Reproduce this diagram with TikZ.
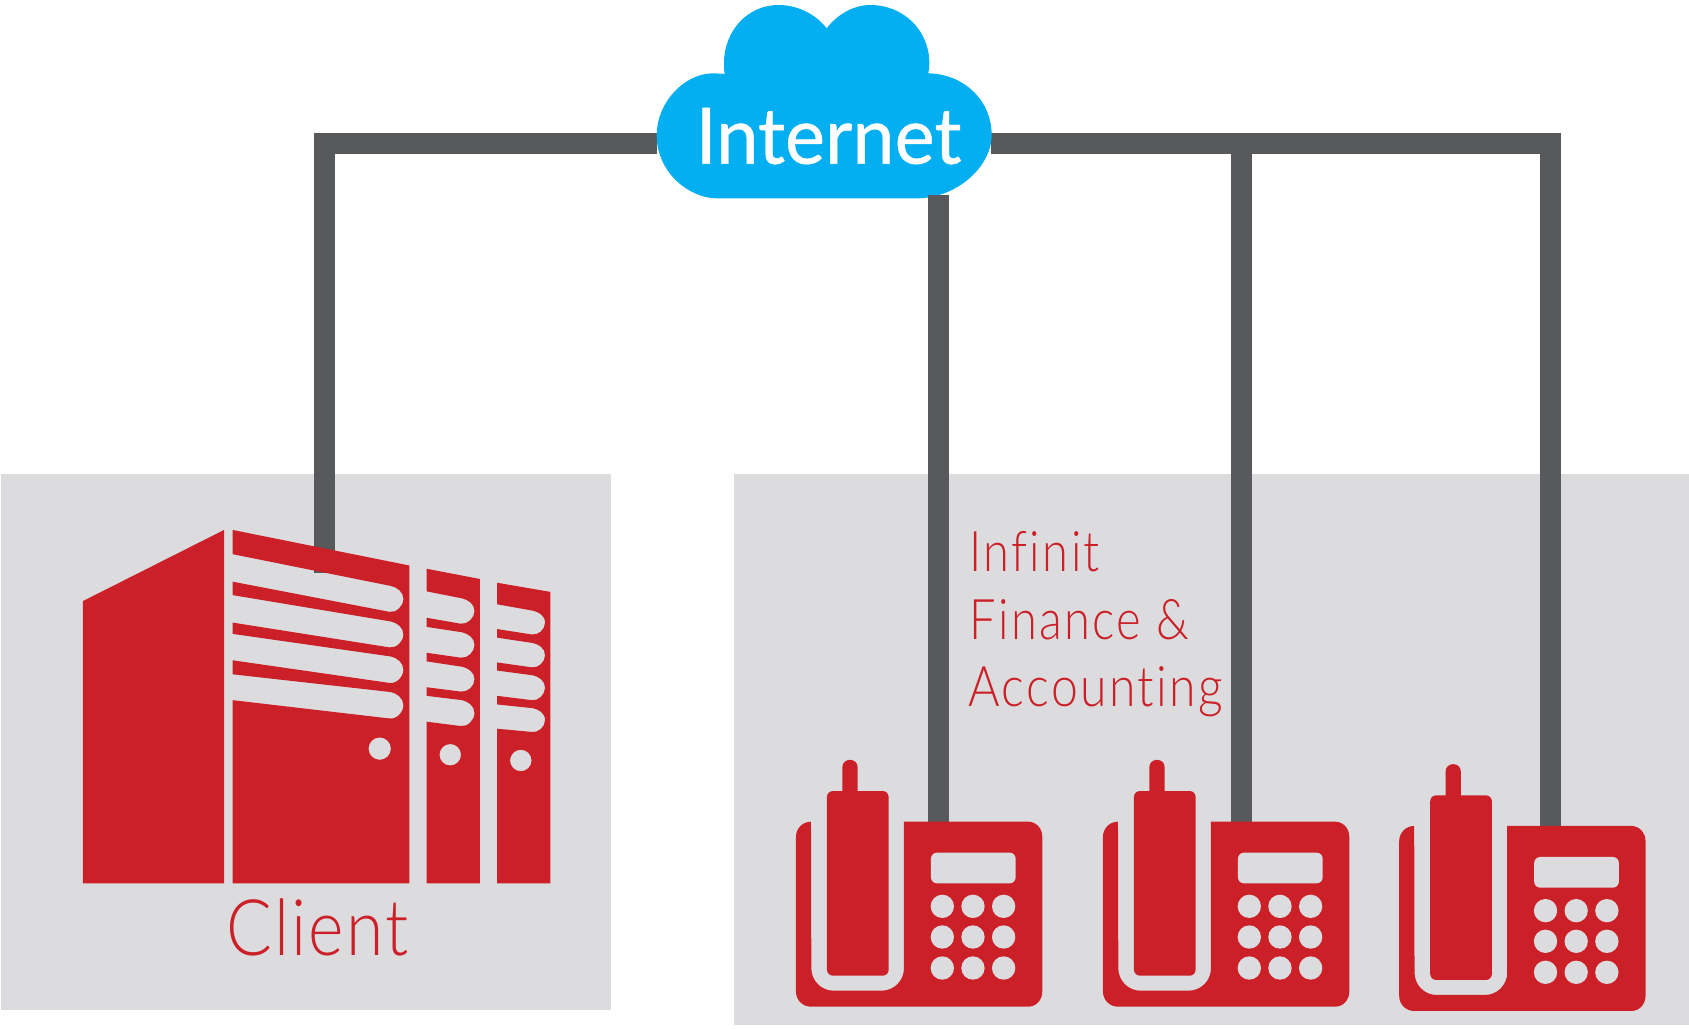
\documentclass[tikz,border=0pt]{standalone}
\usepackage{fontspec}
\usepackage{graphicx}
\setmainfont{Lato}
\newfontfamily\boldishf[FakeBold=0.6]{Lato}
\newfontfamily\lightf[LetterSpace=3,Ligatures=NoCommon]{Lato Light}
\newfontfamily\lightwide[LetterSpace=5,Ligatures=NoCommon]{Lato Light}
\definecolor{wire}{HTML}{58595B}
\definecolor{brick}{HTML}{CB2028}
\definecolor{sky}{HTML}{03AEF1}
\definecolor{panel}{HTML}{DCDCDE}
\tikzset{
  panelbox/.style={fill=panel,draw=none},
  wireline/.style={draw=wire,line width=10.6pt,line cap=butt,line join=miter},
  redfill/.style={fill=brick,draw=none},
  labeltext/.style={text=brick,anchor=base west,inner sep=0pt,outer sep=0pt},
  phoneicon/.pic={
    \fill[brick] (93,245) .. controls (68,245) and (48,265) .. (48,290) -- (48,755)
      .. controls (48,780) and (68,800) .. (93,800) -- (745,800)
      .. controls (768,800) and (787,780) .. (787,755) -- (787,290)
      .. controls (787,265) and (768,245) .. (745,245) -- (372,245) -- (372,685)
      .. controls (372,722) and (342,752) .. (305,752) -- (160,752)
      .. controls (124,752) and (94,722) .. (94,685) -- cycle;
    \fill[brick] (187,153) -- (187,82) .. controls (187,52) and (233,52) .. (233,82) -- (233,153)
      -- (308,153) .. controls (318,153) and (326,161) .. (326,171) -- (326,689)
      .. controls (326,699) and (318,707) .. (308,707) -- (159,707)
      .. controls (149,707) and (141,699) .. (141,689) -- (141,171)
      .. controls (141,161) and (149,153) .. (159,153) -- cycle;
    \fill[panel] (471,338) -- (689,338) .. controls (699,338) and (707,346) .. (707,356) -- (707,412)
      .. controls (707,422) and (699,430) .. (689,430) -- (471,430)
      .. controls (461,430) and (453,422) .. (453,412) -- (453,356)
      .. controls (453,346) and (461,338) .. (471,338) -- cycle;
    \foreach \kx in {487,579,671}
      \foreach \ky in {499,591,684}
        \fill[panel] (\kx,\ky) circle[radius=35];
  }
}
% a notch in the block outline, walked from the bottom up
\newcommand{\slotp}[7]{%
  -- ({#1},{#3}) -- ({#4-1.5},{#6})
  .. controls ({#7-6.5},{#6+1}) and ({#7},{(#5+#6)/2+6.6}) .. ({#7},{(#5+#6)/2})
  .. controls ({#7},{(#5+#6)/2-6.6}) and ({#7-6},{#5+1.2}) .. ({#4},{#5})
  -- ({#1},{#2}) }
\begin{document}
\begin{tikzpicture}[x=0.5386pt,y=-0.5386pt]
\useasboundingbox (0,0) rectangle (1568,954.4);
\fill[panelbox] (1,440) rectangle (567,938);
\fill[panelbox] (681,440) rectangle (1568,952);

\coordinate (cloudL) at (610,133.5);
\coordinate (cloudR) at (920,133.5);
\coordinate (cloudB) at (871,181);
\coordinate (clientTop) at (301,532);
\coordinate (cornerL) at (301,133.5);
\coordinate (cornerR) at (1449.5,133.5);
\coordinate (midJoin) at (1152.5,133.5);
\coordinate (rightTop) at (1439.5,124);
\coordinate (phoneA) at (871,764);
\coordinate (phoneB) at (1152.5,764);
\coordinate (phoneC) at (1439.5,768);

\draw[wireline] (cloudL) -- (cornerL) -- (clientTop);
\draw[wireline] (cloudR) -- (cornerR);
\draw[wireline] (midJoin) -- (phoneB);
\draw[wireline] (rightTop) -- (phoneC);

\begin{scope}[shift={(575.6,0)},scale=0.30945]
\fill[sky] (620,85) .. controls (585,40) and (530,15) .. (475,15)
  .. controls (385,15) and (312,90) .. (312,190)
  .. controls (312,200) and (312,212) .. (314,222)
  .. controls (300,221) and (290,220) .. (280,220)
  .. controls (190,220) and (110,310) .. (110,405)
  .. controls (110,520) and (210,595) .. (290,595) -- (890,595)
  .. controls (1010,595) and (1115,500) .. (1115,405)
  .. controls (1115,300) and (1030,222) .. (925,220)
  .. controls (927,210) and (928,200) .. (928,190)
  .. controls (928,90) and (850,15) .. (750,15)
  .. controls (700,15) and (650,45) .. (620,85) -- cycle;
\end{scope}
\draw[wireline] (cloudB) -- (phoneA);
\node[inner sep=0pt,anchor=base west,text=white] (inet) at (645.5,152)
  {\scalebox{0.97}[1]{\fontsize{39}{39}\boldishf Internet}};

\fill[redfill] (77,558) -- (208,492) -- (208,820) -- (77,820) -- cycle;
\fill[redfill,even odd rule]
  (216,492) -- (380,525) -- (380,820) -- (216,820)
  \slotp{216}{626}{650}{363}{642.5}{667}{374.5}
  \slotp{216}{588.5}{613}{363}{609.5}{634}{374.5}
  \slotp{216}{552.5}{578}{363}{577}{601}{374.5}
  \slotp{216}{514.5}{540}{363}{544}{568}{374.5}
  -- cycle
  (352.5,695) circle[radius=10.4];
\fill[redfill,even odd rule]
  (396,528) -- (445.5,537.5) -- (445.5,820) -- (396,820)
  \slotp{396}{646}{670}{429}{650}{674}{440.5}
  \slotp{396}{614}{638}{429}{619}{642}{440.5}
  \slotp{396}{582}{606}{429}{587}{610.5}{440.5}
  \slotp{396}{549}{573.5}{429}{555.5}{579}{440.5}
  -- cycle
  (418,700.7) circle[radius=10];
\fill[redfill,even odd rule]
  (461.5,541) -- (511,549.5) -- (511,820) -- (461.5,820)
  \slotp{461.5}{654}{676.5}{495}{657.5}{679.5}{506}
  \slotp{461.5}{622.5}{646}{495}{627}{650}{506}
  \slotp{461.5}{592}{615}{495}{597}{619.5}{506}
  \slotp{461.5}{561}{584}{495}{567}{589}{506}
  -- cycle
  (483.5,706) circle[radius=10];

\pic[shift={(724.1,687)},scale=0.30945] {phoneicon};
\pic[shift={(1009.1,687)},scale=0.30945] {phoneicon};
\pic[shift={(1284.1,691)},scale=0.30945] {phoneicon};

\node[labeltext] (client) at (210.5,887) {\scalebox{0.87}[1]{\fontsize{39}{39}\lightf Client}};
\node[labeltext] (l1) at (900,531) {\scalebox{0.84}[1]{\fontsize{28}{28}\lightwide Infinit}};
\node[labeltext] (l2) at (900,594) {\scalebox{0.84}[1]{\fontsize{28}{28}\lightwide Finance \&}};
\node[labeltext] (l3) at (899,656) {\scalebox{0.86}[1]{\fontsize{28}{28}\lightwide Accounting}};
\end{tikzpicture}
\end{document}
